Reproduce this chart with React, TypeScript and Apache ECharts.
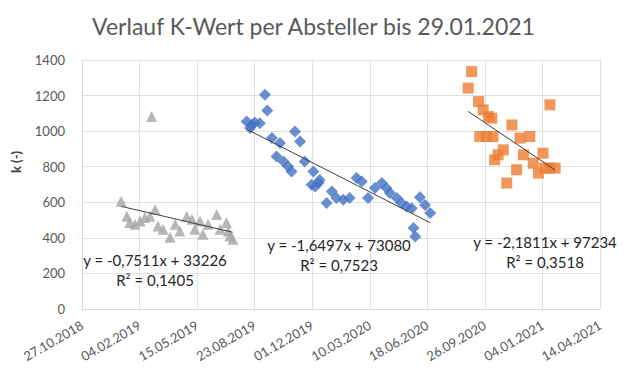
import React, { useEffect, useRef } from "react";
import * as echarts from "echarts";

// Excel date serials (days) and k-values
const grayX = [43468, 43521, 43478, 43483, 43492, 43501, 43509, 43518, 43527, 43532, 43541, 43553, 43562, 43570, 43582, 43591, 43596, 43605, 43610, 43619, 43634, 43640, 43651, 43654, 43657, 43662];
const grayY = [606, 1082, 522, 486, 476, 495, 515, 522, 560, 466, 448, 403, 476, 438, 522, 504, 448, 495, 420, 476, 532, 448, 486, 438, 410, 392];

const blueX = [43686, 43692, 43695, 43700, 43709, 43718, 43722, 43730, 43738, 43744, 43750, 43758, 43764, 43770, 43779, 43787, 43799, 43802, 43805, 43811, 43813, 43825, 43834, 43842, 43854, 43865, 43877, 43886, 43897, 43909, 43921, 43929, 43935, 43947, 43955, 43964, 43973, 43976, 43979, 43987, 43996, 44005];
const blueY = [1054, 1017, 1035, 1048, 1045, 1204, 1116, 961, 857, 933, 829, 801, 773, 998, 942, 829, 698, 773, 689, 708, 726, 596, 661, 624, 614, 624, 736, 717, 624, 680, 708, 680, 652, 624, 596, 576, 567, 455, 408, 629, 585, 540];

const orangeX = [44071, 44077, 44089, 44097, 44106, 44112, 44091, 44103, 44114, 44117, 44123, 44132, 44138, 44147, 44155, 44161, 44167, 44178, 44184, 44193, 44201, 44204, 44213, 44213, 44222];
const orangeY = [1242, 1335, 1166, 1120, 1082, 1073, 970, 970, 970, 839, 867, 895, 708, 1035, 783, 961, 867, 970, 820, 764, 876, 792, 1148, 792, 792];

// trendline coefficients [slope, intercept] as displayed
const grayTrend = [-0.7511, 33226];
const blueTrend = [-1.6497, 73080];
const orangeTrend = [-2.1811, 97234];

const grayLabel = ["y = -0,7511x + 33226", "R² = 0,1405"];
const blueLabel = ["y = -1,6497x + 73080", "R² = 0,7523"];
const orangeLabel = ["y = -2,1811x + 97234", "R² = 0,3518"];

const xTicks = { min: 43400, max: 44300, interval: 100 };
const yTicks = { min: 0, max: 1400, interval: 200 };

const pair = (xs: number[], ys: number[]) => xs.map((x, i) => [x, ys[i]]);
const trend = (xs: number[], t: number[]) => {
  const a = Math.min(...xs);
  const b = Math.max(...xs);
  return [[a, t[0] * a + t[1]], [b, t[0] * b + t[1]]];
};
const fmtDate = (v: number) => {
  const d = new Date(Date.UTC(1899, 11, 30) + v * 86400000);
  const p = (n: number) => (n < 10 ? "0" + n : "" + n);
  return p(d.getUTCDate()) + "." + p(d.getUTCMonth() + 1) + "." + d.getUTCFullYear();
};

const FONT = "Lato, 'Open Sans', sans-serif";

export default function App() {
  const ref = useRef<HTMLDivElement>(null);
  useEffect(() => {
    if (!ref.current) return;
    const chart = echarts.init(ref.current, undefined, { renderer: "svg" });
    const lineStyle = { color: "#404040", width: 1 };
    const eqText = (x: number, y: number, lines: string[]) => [
      { type: "text", x, y, z: 10, style: { text: lines[0], fill: "#262626", font: `15px ${FONT}`, align: "center", verticalAlign: "middle" } },
      { type: "text", x, y: y + 20, z: 10, style: { text: lines[1], fill: "#262626", font: `15px ${FONT}`, align: "center", verticalAlign: "middle" } },
    ];
    chart.setOption({
      animation: false,
      title: {
        text: "Verlauf K-Wert per Absteller bis 29.01.2021",
        left: "center",
        top: 9,
        textStyle: { color: "#595959", fontSize: 23, fontWeight: "normal", fontFamily: FONT },
      },
      grid: { left: 82, right: 27, top: 60, bottom: 63 },
      xAxis: {
        type: "value",
        min: xTicks.min,
        max: xTicks.max,
        interval: xTicks.interval,
        axisLine: { show: true, lineStyle: { color: "#d9d9d9" } },
        axisTick: { show: false },
        splitLine: { show: true, lineStyle: { color: "#e0e0e0" } },
        axisLabel: { rotate: 30, color: "#595959", fontSize: 13, fontFamily: FONT, formatter: fmtDate, margin: 15 },
      },
      yAxis: {
        type: "value",
        min: yTicks.min,
        max: yTicks.max,
        interval: yTicks.interval,
        axisLine: { show: true, lineStyle: { color: "#d9d9d9" } },
        axisTick: { show: false },
        splitLine: { show: true, lineStyle: { color: "#e0e0e0" } },
        axisLabel: { color: "#595959", fontSize: 13, fontFamily: FONT, margin: 17, formatter: (v: number) => String(v) },
      },
      series: [
        { type: "scatter", symbol: "triangle", symbolSize: 11, itemStyle: { color: "#A5A5A5" }, data: pair(grayX, grayY) },
        { type: "scatter", symbol: "diamond", symbolSize: 12, itemStyle: { color: "#4472C4" }, data: pair(blueX, blueY) },
        { type: "scatter", symbol: "rect", symbolSize: 11, itemStyle: { color: "#ED7D31" }, data: pair(orangeX, orangeY) },
        { type: "line", symbol: "none", lineStyle, data: trend(grayX, grayTrend), z: 5 },
        { type: "line", symbol: "none", lineStyle, data: trend(blueX, blueTrend), z: 5 },
        { type: "line", symbol: "none", lineStyle, data: trend(orangeX, orangeTrend), z: 5 },
      ],
      graphic: [
        {
          type: "text",
          x: 16,
          y: 162,
          rotation: Math.PI / 2,
          style: { text: "k (-)", fill: "#404040", font: `bold 13px ${FONT}`, align: "center", verticalAlign: "middle" },
        },
        ...eqText(155, 260, grayLabel),
        ...eqText(339, 245, blueLabel),
        ...eqText(545, 242, orangeLabel),
      ],
    });
    return () => chart.dispose();
  }, []);
  return <div ref={ref} style={{ position: "fixed", left: 0, top: 0, width: 627, height: 372, background: "#fff" }} />;
}
